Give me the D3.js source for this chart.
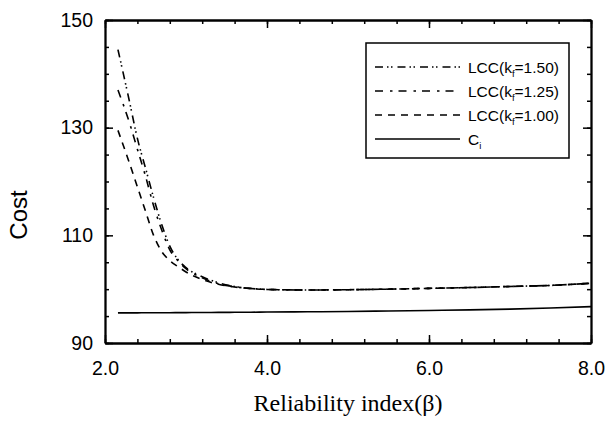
<!DOCTYPE html>
<meta charset="utf-8">
<script src="https://d3js.org/d3.v7.min.js"></script>
<style>
  body { margin: 0; background: #fff; }
  text { fill: #000; }
</style>
<div id="chart"></div>
<script>
  // values
  var beta = [2.16, 2.3, 2.4, 2.5, 2.6, 2.7, 2.8, 2.9, 3.0, 3.2, 3.4, 3.6, 3.8, 4.0, 4.5, 5.0, 5.5, 6.0, 6.5, 7.0, 7.5, 8.0];
  var lcc150 = [144.5, 135, 128, 122.5, 117, 112, 108, 105.5, 104, 102.3, 101.2, 100.5, 100.15, 99.95, 99.85, 99.9, 100.0, 100.15, 100.3, 100.5, 100.7, 101.1];
  var lcc125 = [137, 131, 126, 121, 115.5, 111, 107.3, 105.3, 103.8, 102.1, 101.0, 100.45, 100.12, 99.95, 99.85, 99.9, 100.0, 100.15, 100.3, 100.5, 100.7, 101.1];
  var lcc100 = [129.5, 123.5, 119, 114.5, 110, 107, 105.3, 104.2, 103.2, 101.8, 100.9, 100.4, 100.1, 99.95, 99.85, 99.9, 100.0, 100.15, 100.3, 100.5, 100.7, 101.1];
  var ci = [95.6, 95.6, 95.6, 95.62, 95.62, 95.63, 95.63, 95.64, 95.65, 95.67, 95.68, 95.7, 95.72, 95.75, 95.8, 95.85, 95.95, 96.05, 96.15, 96.3, 96.5, 96.75];

  var xMajor = [2, 4, 6, 8];
  var yMajor = [90, 110, 130, 150];

  var series = [
    {name: "1.50", values: lcc150, dash: "8,4,1.5,2.5,1.5,5"},
    {name: "1.25", values: lcc125, dash: "8,7,2.5,6"},
    {name: "1.00", values: lcc100, dash: "7,6"},
    {name: "Ci", values: ci, dash: null}
  ];

  var W = 605, H = 426;
  var pLeft = 105, pRight = 591, pTop = 20, pBottom = 343;

  var svg = d3.select("#chart").append("svg")
    .attr("width", W).attr("height", H);

  var x = d3.scaleLinear().domain([2, 8]).range([pLeft, pRight]);
  var y = d3.scaleLinear().domain([90, 150]).range([pBottom, pTop]);

  var xMinor = d3.range(2, 8.001, 0.4);
  var yMinor = d3.range(90, 150.001, 5);

  // frame with inward ticks on all four sides
  function axes(axisFn, scale, minor, major, pos, labels) {
    var gMin = svg.append("g").attr("transform", pos)
      .call(axisFn(scale).tickValues(minor).tickSizeInner(-4).tickSizeOuter(0).tickFormat(""));
    var gMaj = svg.append("g").attr("transform", pos)
      .call(axisFn(scale).tickValues(major).tickSizeInner(-8).tickSizeOuter(0)
        .tickFormat(labels ? d3.format(labels) : ""));
    [gMin, gMaj].forEach(function(g) {
      g.selectAll("path").attr("stroke", "#000").attr("stroke-width", 1.8);
      g.selectAll("line").attr("stroke", "#000").attr("stroke-width", 1.5);
    });
    return gMaj;
  }

  var xb = axes(d3.axisBottom, x, xMinor, xMajor, "translate(0," + pBottom + ")", ".1f");
  xb.selectAll("text")
    .attr("font-family", "Liberation Sans, Arial, sans-serif")
    .attr("font-size", 19.5)
    .attr("dy", "0.71em")
    .attr("y", 18);
  axes(d3.axisTop, x, xMinor, xMajor, "translate(0," + pTop + ")", null);

  var yl = axes(d3.axisLeft, y, yMinor, yMajor, "translate(" + pLeft + ",0)", "d");
  yl.selectAll("text")
    .attr("font-family", "Liberation Sans, Arial, sans-serif")
    .attr("font-size", 19.5)
    .attr("x", -12);
  axes(d3.axisRight, y, yMinor, yMajor, "translate(" + pRight + ",0)", null);

  // lines
  var line = d3.line()
    .x(function(d) { return x(d[0]); })
    .y(function(d) { return y(d[1]); })
    .curve(d3.curveMonotoneX);

  series.forEach(function(s) {
    svg.append("path")
      .datum(beta.map(function(b, i) { return [b, s.values[i]]; }))
      .attr("d", line)
      .attr("fill", "none")
      .attr("stroke", "#000")
      .attr("stroke-width", 1.6)
      .attr("stroke-dasharray", s.dash);
  });

  // axis titles
  svg.append("text")
    .attr("x", (pLeft + pRight) / 2)
    .attr("y", 411)
    .attr("text-anchor", "middle")
    .attr("font-family", "Liberation Serif, Times New Roman, serif")
    .attr("font-size", 24)
    .text("Reliability index(β)");

  svg.append("text")
    .attr("transform", "translate(27,215) rotate(-90)")
    .attr("text-anchor", "middle")
    .attr("font-family", "Liberation Sans, Arial, sans-serif")
    .attr("font-size", 24)
    .text("Cost");

  // legend
  var lg = svg.append("g");
  lg.append("rect")
    .attr("x", 366).attr("y", 43).attr("width", 203).attr("height", 115)
    .attr("fill", "#fff").attr("stroke", "#000").attr("stroke-width", 1.5);

  series.forEach(function(s, i) {
    var ly = 67 + i * 24;
    lg.append("line")
      .attr("x1", 375).attr("x2", 460).attr("y1", ly).attr("y2", ly)
      .attr("stroke", "#000").attr("stroke-width", 1.6)
      .attr("stroke-dasharray", s.dash);
    var t = lg.append("text")
      .attr("x", 468).attr("y", ly + 5.5)
      .attr("font-family", "Liberation Sans, Arial, sans-serif")
      .attr("font-size", 15.5);
    if (s.name === "Ci") {
      t.append("tspan").text("C");
      t.append("tspan").attr("font-size", 9.5).attr("dy", 4).text("i");
    } else {
      t.append("tspan").text("LCC(k");
      t.append("tspan").attr("font-size", 9.5).attr("dy", 4).text("f");
      t.append("tspan").attr("dy", -4).text("=" + s.name + ")");
    }
  });
</script>
